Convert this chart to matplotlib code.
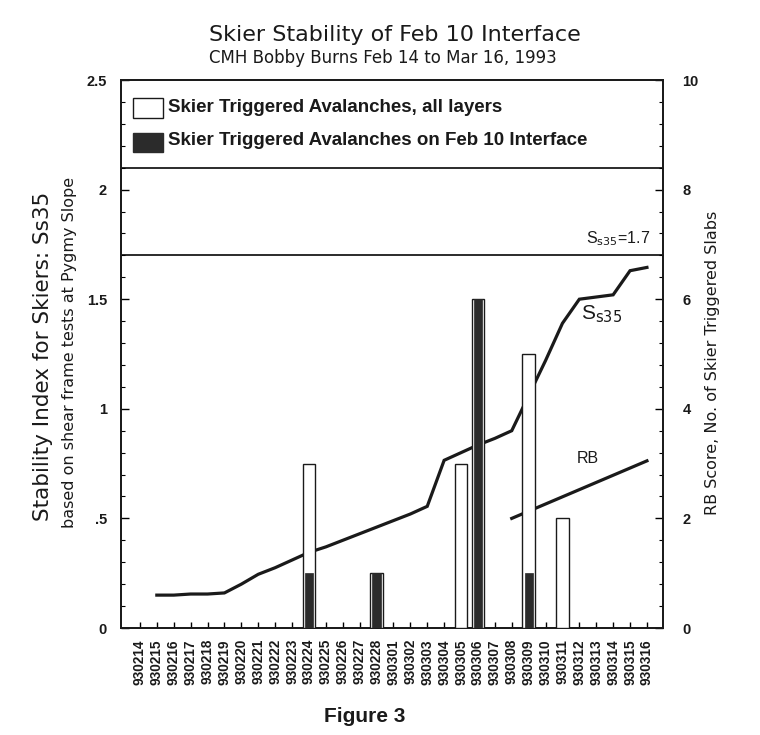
import matplotlib
matplotlib.use('Agg')
import matplotlib.pyplot as plt
from matplotlib.patches import Rectangle
from matplotlib.ticker import MultipleLocator, FixedLocator

# ---------------- data ----------------
dates = ['930214', '930215', '930216', '930217', '930218', '930219', '930220',
         '930221', '930222', '930223', '930224', '930225', '930226', '930227',
         '930228', '930301', '930302', '930303', '930304', '930305', '930306',
         '930307', '930308', '930309', '930310', '930311', '930312', '930313',
         '930314', '930315', '930316']

ss35_dates = dates[1:]
ss35 = [0.15, 0.15, 0.155, 0.155, 0.16, 0.20, 0.245, 0.275, 0.31, 0.345,
        0.37, 0.40, 0.43, 0.46, 0.49, 0.52, 0.555, 0.765, 0.80, 0.835,
        0.865, 0.90, 1.06, 1.22, 1.39, 1.50, 1.51, 1.52, 1.63, 1.645]

rb_dates = ['930308', '930316']
rb = [2.0, 3.05]

all_dates = ['930224', '930228', '930305', '930306', '930309', '930311']
all_layers = [3, 1, 3, 6, 5, 2]
feb10_dates = ['930224', '930228', '930306', '930309']
feb10 = [1, 1, 6, 1]

ref_levels = [1.7, 2.1]
left_ticks = [0, 0.5, 1, 1.5, 2, 2.5]
left_labels = ['0', '.5', '1', '1.5', '2', '2.5']
right_ticks = [0, 2, 4, 6, 8, 10]
right_labels = ['0', '2', '4', '6', '8', '10']

# ---------------- figure ----------------
W, H = 760, 735
fig = plt.figure(figsize=(W / 100, H / 100), dpi=100)
L, R, T, B = 121, 663, 80, 628
ax = fig.add_axes([L / W, 1 - B / H, (R - L) / W, (B - T) / H])
ax.set_xlim(-1.12, 30.95)
ax.set_ylim(0, 2.5)
ax2 = ax.twinx()
ax2.set_ylim(0, 10)

sans = ['Liberation Sans', 'DejaVu Sans']
ink = '#1a1a1a'
dark = '#2b2b2b'

pos = {d: i for i, d in enumerate(dates)}

# S line
ax.plot([pos[d] for d in ss35_dates], ss35, color=ink, lw=2.3,
        solid_joinstyle='miter', zorder=2)
# RB line
ax2.plot([pos[d] for d in rb_dates], rb, color=ink, lw=2.3, zorder=2)

# bars (on top of line)
ax2.bar([pos[d] for d in all_dates], all_layers, width=0.76, color='white',
        edgecolor=ink, linewidth=1.0, zorder=3)
ax2.bar([pos[d] for d in feb10_dates], feb10, width=0.48, color=dark,
        edgecolor=dark, linewidth=0.5, zorder=4)

# horizontal reference lines
for lv in ref_levels:
    ax.axhline(lv, color=ink, lw=1.3, zorder=1)

# legend drawn inside top band
ax.add_patch(Rectangle((0.022, 0.931), 0.055, 0.036, transform=ax.transAxes,
                       facecolor='white', edgecolor=ink, lw=1.0))
ax.add_patch(Rectangle((0.022, 0.869), 0.055, 0.034, transform=ax.transAxes,
                       facecolor=dark, edgecolor=dark, lw=1.0))
ax.text(0.086, 0.949, 'Skier Triggered Avalanches, all layers',
        transform=ax.transAxes, ha='left', va='center', fontsize=13.5,
        family=sans, weight='bold', color=ink)
ax.text(0.086, 0.889, 'Skier Triggered Avalanches on Feb 10 Interface',
        transform=ax.transAxes, ha='left', va='center', fontsize=13.5,
        family=sans, weight='bold', color=ink)

# annotations
ax.text(30.2, 1.775, r'S$_{\rm s35}$=1.7', ha='right', va='center',
        fontsize=11.5, family=sans, color=ink)
ax.text(27.3, 1.43, r'S$_{\rm s35}$', ha='center', va='center',
        fontsize=15, family=sans, color=ink)
ax.text(26.5, 0.775, 'RB', ha='center', va='center',
        fontsize=11.5, family=sans, color=ink)

# ticks - x
ax.set_xticks(range(len(dates)))
ax.set_xticklabels(dates, rotation=90, family=sans, weight='bold',
                   fontsize=9.8, color=ink)
ax.tick_params(axis='x', direction='in', length=4, width=1, pad=8)

# ticks - left
ax.yaxis.set_major_locator(FixedLocator(left_ticks))
ax.set_yticklabels(left_labels, family=sans, weight='bold', fontsize=10.5,
                   color=ink)
ax.yaxis.set_minor_locator(MultipleLocator(0.1))
ax.tick_params(axis='y', which='major', direction='in', length=6, width=1, pad=10)
ax.tick_params(axis='y', which='minor', direction='in', length=3, width=0.8)

# ticks - right
ax2.yaxis.set_major_locator(FixedLocator(right_ticks))
ax2.set_yticklabels(right_labels, family=sans, weight='bold', fontsize=10.5,
                    color=ink)
ax2.yaxis.set_minor_locator(MultipleLocator(0.4))
ax2.tick_params(axis='y', which='major', direction='in', length=6, width=1, pad=14)
ax2.tick_params(axis='y', which='minor', direction='in', length=3, width=0.8)

for a in (ax, ax2):
    for s in a.spines.values():
        s.set_linewidth(1.3)
        s.set_color(ink)

# titles and labels
fig.text(395 / W, 1 - 35 / H, 'Skier Stability of Feb 10 Interface',
         ha='center', va='center', fontsize=16, family='DejaVu Sans',
         color=ink)
fig.text(383 / W, 1 - 58 / H, 'CMH Bobby Burns Feb 14 to Mar 16, 1993',
         ha='center', va='center', fontsize=12, family='DejaVu Sans',
         color=ink)
fig.text(43 / W, 1 - 356 / H, 'Stability Index for Skiers: Ss35',
         ha='center', va='center', rotation=90, fontsize=15.5,
         family='DejaVu Sans', color=ink)
fig.text(70 / W, 1 - 352 / H, 'based on shear frame tests at Pygmy Slope',
         ha='center', va='center', rotation=90, fontsize=11.5,
         family='DejaVu Sans', color=ink)
fig.text(712 / W, 1 - 363 / H, 'RB Score, No. of Skier Triggered Slabs',
         ha='center', va='center', rotation=90, fontsize=11.5,
         family='DejaVu Sans', color=ink)
fig.text(365 / W, 1 - 717 / H, 'Figure 3', ha='center', va='center',
         fontsize=15, family=sans, weight='bold', color=ink)

fig.savefig('out.png', dpi=100)
